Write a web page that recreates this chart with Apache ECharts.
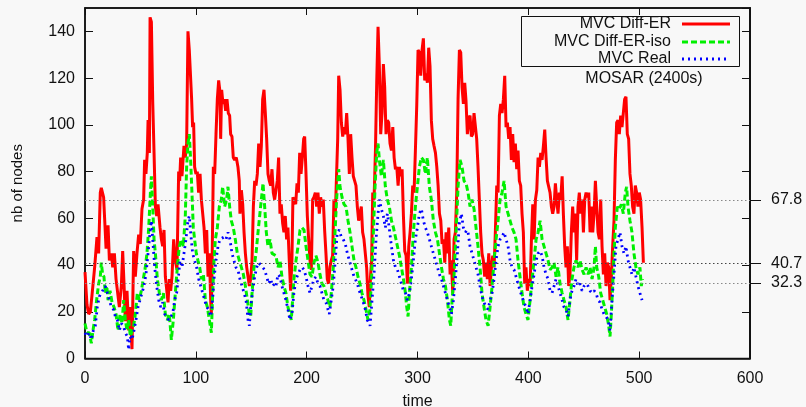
<!DOCTYPE html>
<html><head><meta charset="utf-8">
<script src="https://cdn.jsdelivr.net/npm/echarts@6/dist/echarts.min.js"></script>
<style>html,body{margin:0;padding:0;background:#f8f8f8}#c{width:806px;height:407px}</style>
</head><body><div id="c"></div>
<script>
// ---- data ----
const seriesNames = ['MVC Diff-ER', 'MVC Diff-ER-iso', 'MVC Real'];
const annotation = 'MOSAR (2400s)';
const xTicks = [0, 100, 200, 300, 400, 500, 600];
const yTicks = [0, 20, 40, 60, 80, 100, 120, 140];
const refLines = [67.8, 40.7, 32.3];

const redT = [0,1.8,3.3,4.8,6.3,8.7,10.8,12.3,13.8,14.7,16.8,17.7,19.0,20.8,22.0,23.8,25.0,26.5,28.0,29.5,31.0,32.8,34.0,35.2,36.4,37.9,39.4,40.6,42.4,43.9,45.4,46.9,48.4,49.9,51.4,52.9,53.8,55.0,56.2,56.9,58.1,58.7,59.9,61.1,62.3,63.5,64.7,65.9,67.7,68.9,70.1,71.3,72.5,73.7,74.9,76.1,77.3,78.5,80.0,81.5,83.0,84.5,85.4,86.3,87.5,89.3,90.5,91.7,92.9,94.1,95.3,96.2,97.1,98.0,98.9,100.1,101.3,102.5,103.8,105.0,106.2,107.4,108.6,109.8,111.0,112.2,113.4,114.0,114.9,115.8,117.0,118.2,119.4,120.6,121.8,122.4,123.3,124.5,125.7,126.9,128.1,129.3,130.5,131.4,132.6,133.8,135.0,136.5,138.0,139.2,139.8,141.1,142.3,143.5,144.7,145.9,147.1,148.3,149.5,150.7,151.9,153.1,154.3,155.5,156.7,157.9,159.1,160.3,161.5,162.7,163.9,165.1,166.3,167.5,168.7,169.9,171.1,172.3,173.5,174.7,175.9,177.1,178.3,179.5,180.7,181.9,183.1,184.3,185.5,186.7,187.6,188.8,190.1,191.3,192.5,193.7,194.9,196.1,197.3,198.2,199.4,200.6,201.8,203.0,204.2,205.4,206.6,207.8,209.0,210.2,211.4,212.6,213.8,215.0,216.2,217.4,218.6,219.8,221.0,222.2,223.4,224.6,225.8,227.0,228.0,228.9,230.1,231.3,232.5,233.7,234.9,236.1,237.3,238.5,239.7,240.9,242.1,243.3,244.5,245.7,246.9,248.1,249.3,250.5,251.7,252.9,254.1,255.3,256.5,257.7,258.6,259.6,260.8,262.0,263.2,264.4,265.6,266.8,268.0,269.2,270.4,271.6,272.8,274.0,275.2,276.5,277.7,278.9,280.1,281.3,282.5,283.7,284.9,286.1,287.3,288.5,289.7,290.9,292.1,293.3,294.5,295.7,296.9,298.1,299.3,300.5,301.7,302.9,304.1,305.3,306.5,307.7,308.9,310.1,311.3,312.5,313.7,314.9,316.2,317.4,318.6,319.8,321.0,322.2,323.4,324.6,325.8,327.0,328.2,329.4,330.6,331.8,333.0,334.2,335.4,336.6,337.8,339.0,340.2,341.4,342.6,343.8,345.0,346.2,347.4,348.6,349.8,351.0,352.2,353.4,354.6,355.8,357.0,358.2,359.4,360.6,361.8,363.0,364.3,365.5,366.7,367.9,369.1,370.3,371.5,372.7,373.9,375.1,376.3,377.5,378.7,379.9,381.1,382.3,383.5,384.7,385.9,387.1,388.3,389.5,390.7,391.9,393.1,394.3,395.5,396.7,397.9,399.1,400.4,401.6,402.8,404.0,405.2,406.4,407.6,408.8,410.0,411.2,412.4,413.6,414.8,416.0,417.2,418.4,419.6,420.8,422.0,423.2,424.4,425.6,426.8,428.0,429.2,430.5,431.6,432.8,434.0,435.2,436.4,437.6,438.8,440.0,441.2,442.4,443.6,444.8,446.0,447.2,448.5,449.7,450.9,452.1,453.3,454.5,455.7,456.9,458.1,459.3,460.5,461.7,462.9,464.1,465.3,466.5,467.7,468.9,470.1,471.3,472.5,473.7,474.9,476.1,477.3,478.5,479.7,480.9,482.1,483.3,484.5,485.7,486.9,488.1,489.3,490.5,491.7,492.9,494.1,495.3,496.5,497.7,498.9,500.1,501.3,502.6,503.8];
const redV = [37,23,19,20,27,39,52,45,71,73,69,60,47,57,42,45,39,45,34,28,22,31,46,32,16,29,12,22,4,46,35,45,53,49,64,68,85,79,88,102,88,146,144,110,88,65,61,66,56,51,48,55,35,35,24,34,29,35,51,42,38,80,76,86,78,91,86,92,140,132,132,111,99,101,82,79,80,71,79,68,68,56,45,55,35,45,25,19,49,82,79,96,111,119,114,94,115,109,111,106,111,105,104,96,95,86,85,86,82,76,62,72,66,54,45,39,35,31,34,42,65,76,74,79,92,82,91,111,115,105,94,79,76,74,81,71,68,72,76,86,62,66,58,54,61,51,56,42,29,42,69,69,66,75,71,88,79,86,94,95,79,61,51,42,38,68,69,71,65,71,62,69,65,68,55,45,34,32,39,42,44,68,61,79,94,121,115,101,95,99,96,105,94,79,96,86,78,76,74,65,59,62,65,54,51,45,39,27,22,36,42,71,68,88,118,142,125,96,105,126,116,96,102,101,92,89,99,86,81,82,74,82,78,81,61,46,44,32,48,54,62,74,71,89,108,132,131,121,132,137,119,122,118,133,125,102,94,91,88,82,74,62,59,49,51,41,54,45,56,36,42,28,51,54,71,111,132,131,116,109,118,110,96,102,104,95,96,105,105,94,82,68,54,45,42,35,41,34,45,31,39,44,39,55,74,71,104,109,105,111,121,99,101,94,99,85,96,84,92,81,89,76,74,62,54,32,39,29,34,31,51,66,51,68,72,86,82,88,85,91,98,86,76,76,71,65,62,65,75,68,62,71,68,78,62,48,39,48,31,36,54,65,54,62,42,65,71,62,68,54,68,71,69,71,54,65,54,62,76,65,54,51,68,48,36,45,31,41,39,25,35,48,59,85,101,102,96,104,99,105,111,112,96,94,79,74,65,62,74,71,65,71,68,56,41];

const greenT = [0,1.8,3.9,5.7,7.2,8.7,10.5,12.3,13.8,14.7,15.9,17.1,18.3,19.6,20.8,22.6,24.4,26.2,28,29.8,31.6,33.4,34.9,36.4,37.9,39.4,40.9,42.4,43.9,45.4,47.2,49,50.8,52.6,54.4,55.9,57.5,59,59.9,61.1,62.3,63.5,65.3,67.1,68.9,70.7,72.5,74.3,76.1,77.9,79.7,81.5,83.3,85.1,86.9,88.7,90.5,91.7,92.9,94.1,95.3,96.5,97.7,98.9,100.4,101.9,103.5,105,106.8,108.6,110.4,112.2,114,115.2,116.4,117.6,119.4,121.2,123,124.2,126,127.8,129,130.5,132,133.8,135.6,137.4,139.2,141.1,142.9,144.7,146.5,148.3,149.5,150.7,152.5,154.3,156.1,157.6,159.1,160.6,162.1,163.6,165.1,166.9,168.7,170.5,172.3,174.1,175.9,177.7,179.5,181.3,183.1,184.9,186.1,187.3,188.5,190.4,192.2,194,195.8,197.6,199.4,201.2,203,204.8,206.6,208.4,210.2,212,213.8,215.6,217.4,219.2,221,222.2,224,225.8,227,228.9,230.1,231.9,233.7,235.5,237.3,239.1,240.9,242.7,244.5,246.3,248.1,249.9,251.7,253.5,255.3,257.1,258.7,260.2,261.7,263.2,264.4,265.6,267.4,269.2,271,272.8,274.6,276.5,278.3,280.1,281.9,283.7,285.5,287.3,289.1,290.3,291.5,292.7,294.5,296.3,298.1,299.9,301.7,303.5,305.3,307.1,308.9,310.7,312.5,314.3,316.2,318,319.8,321.6,323.4,325.2,327,328.8,330,331.2,333,334.8,336.6,338.4,340.2,342,343.8,345.6,347.4,349.2,351,352.8,354.6,356.4,358.2,360,361.8,363.7,365.5,367.3,369.1,370.9,372.7,374.5,376.3,378.1,379.9,381.7,383.5,385.3,387.1,388.9,390.7,392.5,394.3,396.1,397.9,399.7,401.6,403.4,405.2,407,408.8,410.6,412.4,414.2,416,417.8,419.6,421.4,423.2,425,426.8,428.6,430.5,432.2,434,435.8,437.6,439.4,441.2,443,444.8,446.6,448.5,450.3,452.1,453.9,455.7,457.5,459.3,460.5,461.7,463.5,465.3,467.1,468.9,470.7,472.5,473.7,474.9,476.1,477.3,478.5,480.3,482.1,483.9,485.7,487.5,488.7,489.9,491.7,493.5,495.3,497.1,498.9,500.7,501.9,503.1];
const greenV = [15,11,11,6.5,12,16.5,25,32,35,41,36,35,28,31,25,29,24,22,19,12,19,15,25,16.5,12,16.5,9.4,9.4,14,19,28,25,29,34,39,45,56,71,78,65,51,45,34,28,25,28,19,16.5,19,8,16.5,28,39,48,51,48,61,82,92,96,85,71,56,51,45,42,39,34,36,25,22,16.5,11,28,42,51,56,65,68,73.5,65,68,73.5,65,59,56,51,45,42,39,36,31,25,19,18,28,39,45,54,61,68,75,65,54,48,51,45,45,44,39,42,35,31,28,22,19,16.5,25,34,42,48,55,56,55,48,42,36,35,41,44,41,36,32,31,28,25,22,28,39,56,68,81,73.5,69,66,65,59,54,48,42,39,35,32,28,25,21,16.5,21,36,54,73.5,88,92,85,78,85,73.5,68,65,59,56,52,48,44,39,34,28,22,18,28,39,54,65,73.5,82,86,85,79,86,73.5,68,59,54,51,45,39,34,31,25,16.5,14,25,36,54,73.5,85,82,76,75,71,65,68,64,56,48,39,28,22,16.5,14,22,31,42,51,59,68,71,76,65,62,59,56,54,51,42,35,28,22,19,16.5,25,34,42,51,54,59,51,48,45,42,38,39,41,35,39,32,28,25,22,16.5,25,34,39,42,39,42,38,36,39,36,39,34,39,48,39,35,28,25,22,19,14,9.4,19,31,45,56,65,64,66,62,71,73.5,65,59,54,45,39,36,39,31,34];

const blueT = [0,1.8,3.9,5.7,7.5,9.3,11.1,12.9,14.7,16.5,18.3,20.2,22,23.8,25.6,27.4,29.2,31,32.8,34.6,36.4,38.2,39.4,40.6,42.4,44.2,46,47.8,49.6,51.4,53.2,55,56.9,58.7,59.9,61.1,62.9,64.7,66.5,68.3,70.1,71.9,73.7,75.5,77.3,79.1,80.9,82.7,84.5,85.7,87.5,89.3,91.1,92.9,94.1,95.3,97.1,98.9,100.7,102.6,104.4,106.2,108,109.8,111.6,113.4,114.6,116.4,118.2,120,121.8,123.6,125.4,127.2,129,130.8,132.6,134.4,136.2,138,139.8,141.7,143.5,145.3,147.1,148.3,149.5,151.3,153.1,154.9,156.7,158.5,160.3,162.1,163.9,165.7,167.5,169.3,171.1,172.3,174.1,175.9,177.7,179.5,181.3,183.1,184.9,186.7,188.5,190.4,192.2,194,195.8,197.6,199.4,201.2,203,204.8,206.6,208.4,210.2,212,213.8,215.6,217.4,219.2,220.4,222.2,224,225.8,227.6,229.4,231.2,233,234.9,236.7,238.5,240.3,242.1,243.9,245.7,247.5,249.3,251.1,252.9,254.7,256.5,257.2,259,260.8,262.6,264.4,265.6,267.4,269.2,271,272.8,274.7,276.5,278.3,280.1,281.9,283.7,285.5,287.3,289.1,290.9,292.7,294.5,296.3,298.1,299.9,301.7,303.5,305.3,307.1,308.9,310.7,312.5,314.3,316.2,318,319.8,321.6,323.4,325.2,327,328.8,330.6,332.4,334.2,336,337.8,339.6,341.4,343.2,344.5,345.6,347.4,349.2,351,352.8,354.6,356.4,358.2,360,361.8,363.7,365.5,367.3,369.1,370.9,372.7,374.5,376.3,378.1,379.9,381.7,383.5,385.3,387.1,388.9,390.7,392.5,394.3,396.1,397.9,399.7,401.6,403.4,405.2,407,408.8,410.6,412.4,414.2,416,417.8,419.6,421.4,423.2,425,426.8,428.6,430.5,432.2,434,435.8,437.6,439.4,441.2,443,444.8,446.6,448.5,450.3,452.1,453.9,455.7,457.5,459.3,461.1,462.9,464.7,466.5,468.3,470.1,471.9,473.7,475.5,477.3,479.1,480.9,482.7,484.5,486.3,488.1,489.9,491.7,493.5,495.3,497.1,498.9,500.7,502.6];
const blueV = [11,9.4,11,8,12,14,22,26.5,28,28,31,28,25,22,21,18,16.5,12,15,14,11,9.4,3.7,9.4,8,12,16.5,22,25,28,31,36,45,54,59,51,39,31,25,22,24,19,18,16.5,18,19,25,28,36,42,39,45,51,59,61,54,45,42,39,34,31,28,25,22,21,18,22,34,42,48,51,51,52,51,54,51,45,42,39,38,34,31,28,25,16.5,14,22,29,35,39,41,41,39,38,35,32,34,31,32,31,36,35,31,28,25,21,16.5,19,28,34,36,38,39,38,35,31,28,31,34,35,32,31,28,25,24,21,19,25,31,42,54,55,52,51,49,45,42,39,36,34,32,29,26.5,24,21,16.5,15,14,25,36,51,62,68,64,61,56,62,55,48,42,39,38,35,32,29,28,25,28,34,42,51,56,62,64,59,56,54,51,48,45,42,39,36,34,31,28,25,22,19,25,34,45,58,62,56,54,55,54,48,45,42,39,36,31,26.5,24,22,21,25,28,34,42,48,51,52,54,51,48,42,39,38,35,32,29,26.5,24,22,19,25,31,36,42,45,46,44,39,36,34,29,28,31,34,31,28,25,22,21,18,25,29,31,34,31,32,29,31,32,31,29,28,29,28,25,24,21,19,18,16.5,12,25,36,48,51,54,48,45,48,42,39,36,39,35,31,28,25];

// ---- chart ----
const FONT = '"Liberation Sans", Arial, Helvetica, sans-serif';
const pairs = (t, v) => t.map((x, i) => [x, v[i]]);
const mkLine = () => ({ show: true, onZero: false, lineStyle: { color: '#111', width: 1.5 } });
const tickStyle = () => ({ color: '#111', width: 1 });
const lbl = (extra) => Object.assign({ show: true, fontFamily: FONT, fontSize: 16, color: '#111' }, extra);

const chart = echarts.init(document.getElementById('c'), null, { renderer: 'canvas' });
chart.setOption({
  backgroundColor: '#f8f8f8',
  animation: false,
  grid: { left: 85, right: 56, top: 8, bottom: 48.5, containLabel: false, outerBoundsMode: 'none',
          show: true, borderColor: '#111', borderWidth: 1.5, backgroundColor: 'transparent' },
  xAxis: [
    { show: true, type: 'value', min: xTicks[0], max: xTicks[xTicks.length - 1], interval: xTicks[1] - xTicks[0], position: 'bottom',
      name: 'time', nameLocation: 'middle', nameGap: 35,
      nameTextStyle: { fontFamily: FONT, fontSize: 16, color: '#111' },
      axisLine: mkLine(), axisTick: { show: true, inside: true, length: 7, lineStyle: tickStyle() },
      axisLabel: lbl({ margin: 12 }), splitLine: { show: false } },
    { show: true, type: 'value', min: xTicks[0], max: xTicks[xTicks.length - 1], interval: xTicks[1] - xTicks[0], position: 'top',
      axisLine: mkLine(), axisTick: { show: true, inside: true, length: 7, lineStyle: tickStyle() },
      axisLabel: { show: false }, splitLine: { show: false } }
  ],
  yAxis: [
    { show: true, type: 'value', min: 0, max: 150, interval: yTicks[1] - yTicks[0], position: 'left',
      name: 'nb of nodes', nameLocation: 'middle', nameGap: 60,
      nameTextStyle: { fontFamily: FONT, fontSize: 15, color: '#111' },
      axisLine: mkLine(), axisTick: { show: true, inside: true, length: 8, lineStyle: tickStyle() },
      axisLabel: lbl({ margin: 10, showMaxLabel: false }), splitLine: { show: false } },
    { show: true, type: 'value', min: 0, max: 150, interval: yTicks[1] - yTicks[0], position: 'right',
      axisLine: mkLine(), axisTick: { show: true, inside: true, length: 8, lineStyle: tickStyle() },
      axisLabel: { show: false }, splitLine: { show: false } },
    { show: true, type: 'value', min: 0, max: 150, position: 'right',
      axisLine: { show: true, onZero: false, lineStyle: { color: '#111', width: 1.5 } },
      axisTick: { show: true, inside: false, length: 11, customValues: refLines, lineStyle: tickStyle() },
      axisLabel: lbl({ margin: 21, customValues: refLines, formatter: v => Number(v).toFixed(1) }),
      splitLine: { show: false } }
  ],
  series: [
    { name: 'ref', type: 'line', xAxisIndex: 1, yAxisIndex: 1, data: [[0, 0]], showSymbol: false,
      lineStyle: { opacity: 0 }, z: 1, silent: true,
      markLine: { silent: true, symbol: 'none', label: { show: false }, animation: false,
        data: refLines.map((v, i) => ({ yAxis: v, lineStyle: { color: i === 1 ? '#444' : '#888', width: 1, type: [1.5, 2.5] } })) } },
    { name: 'ref2', type: 'line', xAxisIndex: 0, yAxisIndex: 2, data: [[0, 0]], showSymbol: false,
      lineStyle: { opacity: 0 }, z: 1, silent: true },
    { name: seriesNames[0], type: 'line', data: pairs(redT, redV), showSymbol: false, z: 2,
      lineStyle: { color: '#ff0000', width: 3 } },
    { name: seriesNames[1], type: 'line', data: pairs(greenT, greenV), showSymbol: false, z: 3,
      lineStyle: { color: '#00f000', width: 3, type: [6, 3] } },
    { name: seriesNames[2], type: 'line', data: pairs(blueT, blueV), showSymbol: false, z: 4,
      lineStyle: { color: '#0000ff', width: 2.8, type: [2, 4] } }
  ],
  graphic: [
    { type: 'rect', shape: { x: 521.5, y: 16.5, width: 218, height: 50 }, style: { fill: '#f8f8f8', stroke: '#111', lineWidth: 1 }, z: 100 },
    { type: 'text', x: 671, y: 24, style: { text: seriesNames[0], align: 'right', verticalAlign: 'middle', font: '16px ' + FONT, fill: '#111' }, z: 101 },
    { type: 'text', x: 671, y: 42, style: { text: seriesNames[1], align: 'right', verticalAlign: 'middle', font: '16px ' + FONT, fill: '#111' }, z: 101 },
    { type: 'text', x: 671, y: 59, style: { text: seriesNames[2], align: 'right', verticalAlign: 'middle', font: '16px ' + FONT, fill: '#111' }, z: 101 },
    { type: 'line', shape: { x1: 682, y1: 24, x2: 730, y2: 24 }, style: { stroke: '#ff0000', lineWidth: 3 }, z: 101 },
    { type: 'line', shape: { x1: 682, y1: 42, x2: 730, y2: 42 }, style: { stroke: '#00f000', lineWidth: 3, lineDash: [6, 3] }, z: 101 },
    { type: 'line', shape: { x1: 682, y1: 59, x2: 730, y2: 59 }, style: { stroke: '#0000ff', lineWidth: 2.8, lineDash: [2, 4] }, z: 101 },
    { type: 'text', x: 644, y: 79, style: { text: annotation, align: 'center', verticalAlign: 'middle', font: '16px ' + FONT, fill: '#111' }, z: 101 }
  ]
});
</script></body></html>
